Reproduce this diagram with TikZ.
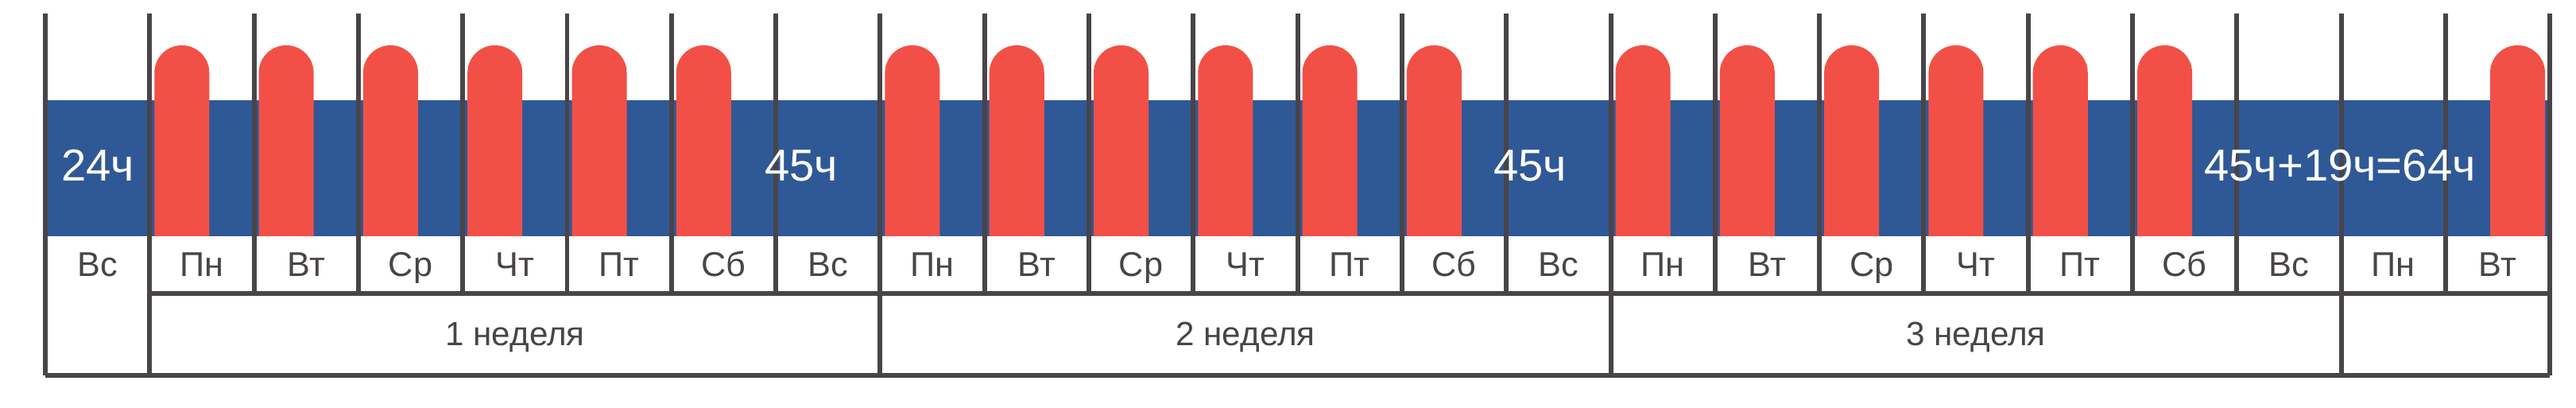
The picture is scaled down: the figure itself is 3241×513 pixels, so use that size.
\documentclass[tikz,border=0pt]{standalone}
\usepackage{fontspec}
\setmainfont{Liberation Sans}
\definecolor{bandblue}{RGB}{47,88,150}
\definecolor{pillred}{RGB}{242,80,70}
\definecolor{gridgray}{RGB}{72,68,72}

\begin{document}
\begin{tikzpicture}[x=0.01cm, y=0.01cm,
  grid/.style={draw=gridgray, line width=1.7pt},
  hours/.style={anchor=base, text=white, font=\fontsize{16}{16}\selectfont},
  daylabel/.style={anchor=base, text=gridgray, font=\fontsize{12.3}{12}\selectfont},
  weeklabel/.style={anchor=base, text=gridgray, font=\fontsize{12}{12}\selectfont}]
  \useasboundingbox (0,0) rectangle (3241,513);
  % band of rest hours
  \fill[bandblue] (57,216) rectangle (3208,387);
  % working shifts
  \foreach \c in {1,...,6,8,9,10,11,12,13,15,16,17,18,19,20}
    \fill[pillred] ({57+131.3*\c+6},216) -- ++(0,205.5) arc (180:0:0.345cm) -- ++(0,-205.5) -- cycle;
  \fill[pillred] (3133,216) -- ++(0,205.5) arc (180:0:0.345cm) -- ++(0,-205.5) -- cycle;
  % grid
  \foreach \i in {0,...,24}
    \draw[grid] ({57+131.3*\i},496) -- ({57+131.3*\i},144);
  \foreach \i in {0,1,8,15,22,24}
    \draw[grid] ({57+131.3*\i},144) -- ({57+131.3*\i},41);
  \draw[grid] (188.3,144) -- (3208.2,144);
  \draw[grid] (57,41) -- (3208.2,41);
  % days
  \foreach \d [count=\i from 0] in {Вс,Пн,Вт,Ср,Чт,Пт,Сб,Вс,Пн,Вт,Ср,Чт,Пт,Сб,Вс,Пн,Вт,Ср,Чт,Пт,Сб,Вс,Пн,Вт}
    \node[daylabel] (day\i) at ({57+131.3*\i+65.6},165) {\d};
  % weeks
  \node[weeklabel] (week1) at (648,78) {1 неделя};
  \node[weeklabel] (week2) at (1567,78) {2 неделя};
  \node[weeklabel] (week3) at (2486,78) {3 неделя};
  % hours
  \node[hours] (rest0) at (123,285) {24ч};
  \node[hours] (rest1) at (1008,285) {45ч};
  \node[hours] (rest2) at (1925,285) {45ч};
  \node[hours] (rest3) at (2944,285) {45ч+19ч=64ч};
\end{tikzpicture}
\end{document}
